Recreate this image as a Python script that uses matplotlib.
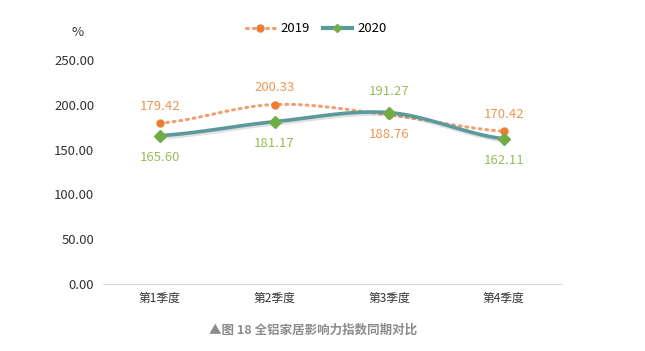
import numpy as np
import matplotlib
matplotlib.use("Agg")
from matplotlib import pyplot as plt
import matplotlib.patheffects as pe

plt.rcParams['font.family'] = ['Noto Sans CJK SC', 'DejaVu Sans']

quarters = ['第1季度', '第2季度', '第3季度', '第4季度']
v2019 = [179.42, 200.33, 188.76, 170.42]
v2020 = [165.60, 181.17, 191.27, 162.11]
yticks = [0, 50, 100, 150, 200, 250]
caption = '▲图 18 全铝家居影响力指数同期对比'


def smooth(y, n=30):
    # catmull-rom style smoothing, only for drawing the curve
    y = np.asarray(y, float)
    x = np.arange(len(y), dtype=float)
    p = np.concatenate([[y[0]], y, [y[-1]]])
    xs, ys = [], []
    for i in range(len(y) - 1):
        p0, p1, p2, p3 = p[i], p[i + 1], p[i + 2], p[i + 3]
        t = np.linspace(0, 1, n, endpoint=(i == len(y) - 2))
        yy = 0.5 * ((2 * p1) + (-p0 + p2) * t + (2 * p0 - 5 * p1 + 4 * p2 - p3) * t ** 2
                    + (-p0 + 3 * p1 - 3 * p2 + p3) * t ** 3)
        xs.append(x[i] + t)
        ys.append(yy)
    return np.concatenate(xs), np.concatenate(ys)


fig = plt.figure(figsize=(6.45, 3.51), dpi=100)
ax = fig.add_axes([0.159, 0.191, 0.711, 0.638])

orange = '#ED7D31'
teal = '#5A9A9C'
green = '#70AD47'

x = np.arange(len(quarters))
sx, sy = smooth(v2019)
ax.plot(sx, sy, color='#F0A070', lw=2.2, ls=(0, (0.6, 1.6)), dash_capstyle='round', zorder=2)
ax.plot(x, v2019, 'o', color=orange, ms=5, zorder=3)

sx, sy = smooth(v2020)
ax.plot(sx, sy, color=teal, lw=2.6, zorder=4, solid_capstyle='round',
        path_effects=[pe.SimpleLineShadow(offset=(0.8, -1.5), alpha=0.12), pe.Normal()])
ax.plot(x, v2020, 'D', color=green, ms=6, zorder=5)

for i in range(len(quarters)):
    ax.annotate(f'{v2019[i]:.2f}', (x[i], v2019[i]), xytext=(0, 12) if v2019[i] >= v2020[i] else (0, -14),
                textcoords='offset points', ha='center', va='center', fontsize=9.5, color='#EE9650')
    ax.annotate(f'{v2020[i]:.2f}', (x[i], v2020[i]), xytext=(0, -16) if v2019[i] >= v2020[i] else (0, 15),
                textcoords='offset points', ha='center', va='center', fontsize=9.5, color='#9BBB59')

ax.set_xlim(-0.5, len(quarters) - 0.5)
ax.set_ylim(0, 250)
ax.set_yticks(yticks)
ax.set_yticklabels([f'{t:.2f}' for t in yticks], fontsize=9.5, color='#333333')
ax.set_xticks(x)
ax.set_xticklabels(quarters, fontsize=8.5, color='#333333')
for s in ['top', 'right', 'left']:
    ax.spines[s].set_visible(False)
ax.spines['bottom'].set_color('#D9D9D9')
ax.tick_params(axis='both', length=0, pad=6)

fig.text(0.121, 0.908, '%', fontsize=9.5, color='#333333', ha='center', va='center')

# legend
h1, = ax.plot([], [], color='#F0A070', lw=2.2, ls=(0, (0.6, 1.6)), dash_capstyle='round',
              marker='o', mfc=orange, mec=orange, ms=5)
h2, = ax.plot([], [], color=teal, lw=3, marker='D', mfc=green, mec=green, ms=4)
fig.legend([h1, h2], ['2019', '2020'], loc='center', bbox_to_anchor=(0.49, 0.918), ncol=2,
           frameon=False, fontsize=9.5, handlelength=2.2, handletextpad=0.4, columnspacing=1.0)

fig.text(0.485, 0.06, caption, fontsize=9, fontweight='bold', color='#8C8C8C', ha='center', va='center')

fig.savefig('out.png', dpi=100)
